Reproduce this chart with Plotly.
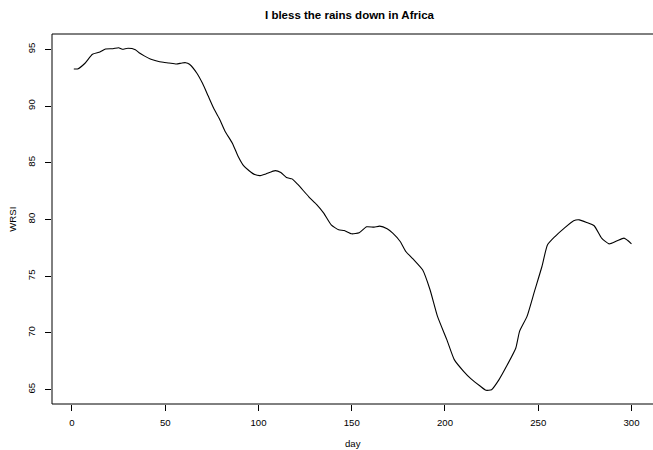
import plotly.graph_objects as go

days = [1, 3, 7, 11, 15, 18, 22, 25, 27, 30,
        34, 36, 39, 42, 45, 49, 52, 56, 59, 61,
        63, 67, 70, 73, 76, 79, 82, 86, 89, 92,
        95, 98, 101, 104, 109, 112, 115, 118, 121, 127,
        131, 135, 139, 143, 146, 150, 154, 158, 162, 165,
        169, 172, 176, 179, 183, 188, 192, 196, 201, 205,
        210, 214, 219, 222, 225, 229, 233, 238, 240, 244,
        248, 252, 255, 259, 264, 269, 272, 276, 280, 284,
        288, 292, 296, 298, 300]
wrsi = [93.27, 93.27, 93.77, 94.56, 94.76, 95.03, 95.05, 95.14, 95.0, 95.09,
        94.97, 94.7, 94.4, 94.15, 94.0, 93.86, 93.8, 93.7, 93.8, 93.82,
        93.68, 92.89, 92.0, 90.9, 89.8, 88.9, 87.8, 86.73, 85.6, 84.75,
        84.3, 83.96, 83.87, 84.02, 84.31, 84.14, 83.7, 83.58, 83.11, 82.0,
        81.35, 80.56, 79.53, 79.09, 79.03, 78.74, 78.83, 79.36, 79.33, 79.42,
        79.18, 78.8, 78.06, 77.18, 76.51, 75.57, 73.81, 71.46, 69.41, 67.65,
        66.62, 65.95, 65.3, 64.95, 65.0, 65.89, 67.06, 68.68, 70.14, 71.46,
        73.67, 75.86, 77.77, 78.5, 79.24, 79.89, 79.97, 79.74, 79.45, 78.36,
        77.85, 78.1, 78.36, 78.15, 77.86]

x_ticks = [0, 50, 100, 150, 200, 250, 300]
y_ticks = [65, 70, 75, 80, 85, 90, 95]

title_text = "I bless the rains down in Africa"
x_label = "day"
y_label = "WRSI"

FONT = "Liberation Sans, Arial, Helvetica, sans-serif"

fig = go.Figure()
fig.add_trace(go.Scatter(x=days, y=wrsi, mode="lines",
                         line=dict(color="black", width=1.1, shape="spline", smoothing=0.5),
                         hoverinfo="skip", showlegend=False))

axis_common = dict(showgrid=False, zeroline=False, showline=False,
                   ticks="outside", ticklen=6, tickwidth=1, tickcolor="black",
                   tickfont=dict(family=FONT, size=9.6, color="black"))

box_line = dict(color="black", width=1)

fig.update_layout(
    width=653, height=450,
    margin=dict(l=52, r=0, t=34, b=46),
    paper_bgcolor="white", plot_bgcolor="white",
    hovermode=False,
    xaxis=dict(range=[-10.7, 311.55], tickvals=x_ticks, ticktext=[str(v) for v in x_ticks],
               ticklabelstandoff=3, **axis_common),
    yaxis=dict(range=[63.74, 96.35], tickvals=y_ticks, ticktext=[str(v) for v in y_ticks],
               tickangle=-90, ticklabelstandoff=6, **axis_common),
    shapes=[
        dict(type="line", xref="paper", yref="paper", x0=0, x1=1, y0=1, y1=1, line=box_line, layer="above"),
        dict(type="line", xref="paper", yref="paper", x0=0, x1=1, y0=0, y1=0, line=box_line, layer="above"),
        dict(type="line", xref="paper", yref="paper", x0=0, x1=0, y0=0, y1=1, line=box_line, layer="above"),
    ],
    annotations=[
        dict(text="<b>" + title_text + "</b>", xref="paper", yref="paper",
             x=(350 - 52) / 601, y=(404 - 14.6) / 370, xanchor="center", yanchor="middle",
             showarrow=False, font=dict(family=FONT, size=11.5, color="black")),
        dict(text=x_label, xref="paper", yref="paper",
             x=(353 - 52) / 601, y=(404 - 443) / 370, xanchor="center", yanchor="middle",
             showarrow=False, font=dict(family=FONT, size=9.6, color="black")),
        dict(text=y_label, xref="paper", yref="paper", textangle=-90,
             x=(11.7 - 52) / 601, y=(404 - 219) / 370, xanchor="center", yanchor="middle",
             showarrow=False, font=dict(family=FONT, size=9.6, color="black")),
    ],
)

fig.write_html("out.html", config={"displayModeBar": False, "staticPlot": True},
               post_script="document.body.style.margin='0';document.body.style.overflow='hidden';")
